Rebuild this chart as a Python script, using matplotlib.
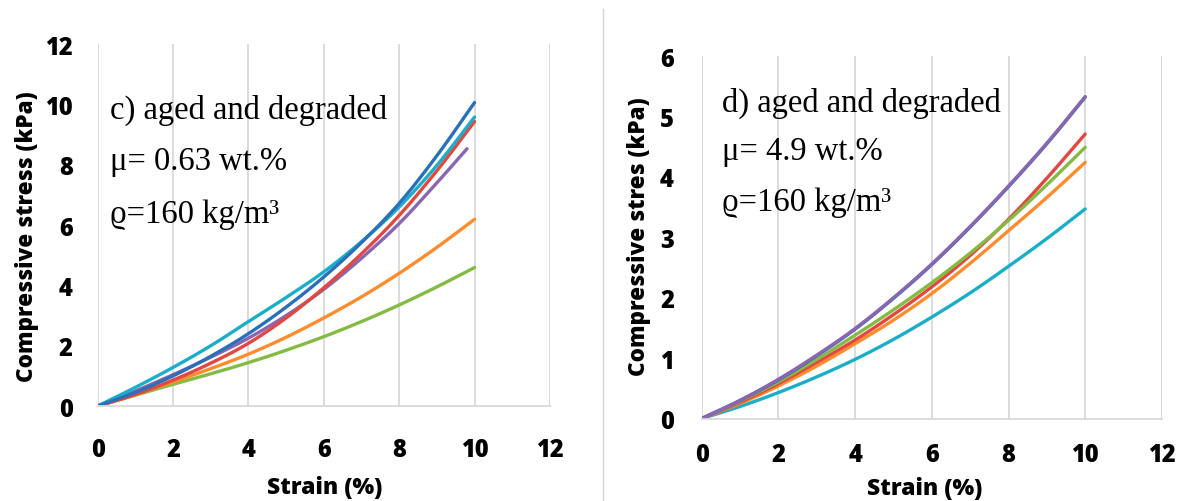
import numpy as np
import matplotlib
matplotlib.use("Agg")
import matplotlib.pyplot as plt
from matplotlib.lines import Line2D

# ---- data -------------------------------------------------------------
strain = [0, 1, 2, 3, 4, 5, 6, 7, 8, 9, 10]
strain_short = [0, 1, 2, 3, 4, 5, 6, 7, 8, 9, 9.8]

# panel c) mu = 0.63 wt.%
c_blue = [0, 0.45, 1.00, 1.65, 2.40, 3.28, 4.28, 5.42, 6.72, 8.30, 10.06]
c_cyan = [0, 0.62, 1.28, 2.00, 2.80, 3.60, 4.45, 5.45, 6.60, 7.98, 9.58]
c_red = [0, 0.38, 0.86, 1.42, 2.08, 2.92, 3.92, 5.05, 6.32, 7.80, 9.43]
c_purple = [0, 0.50, 1.04, 1.62, 2.25, 3.00, 3.87, 4.90, 6.05, 7.40, 8.53]
c_orange = [0, 0.38, 0.80, 1.24, 1.72, 2.28, 2.92, 3.62, 4.40, 5.26, 6.19]
c_green = [0, 0.36, 0.72, 1.07, 1.44, 1.85, 2.30, 2.80, 3.35, 3.95, 4.59]

# panel d) mu = 4.9 wt.%
d_blue = [0, 0.30, 0.64, 1.04, 1.48, 1.99, 2.55, 3.17, 3.84, 4.55, 5.32]
d_purple = [0, 0.30, 0.65, 1.05, 1.49, 2.00, 2.56, 3.18, 3.85, 4.56, 5.33]
d_red = [0, 0.27, 0.58, 0.93, 1.30, 1.72, 2.18, 2.70, 3.30, 3.98, 4.71]
d_green = [0, 0.29, 0.61, 0.98, 1.38, 1.80, 2.25, 2.74, 3.28, 3.87, 4.49]
d_orange = [0, 0.25, 0.54, 0.87, 1.24, 1.63, 2.07, 2.57, 3.11, 3.66, 4.24]
d_cyan = [0, 0.20, 0.43, 0.69, 0.98, 1.31, 1.68, 2.08, 2.52, 2.98, 3.47]

x_ticks = [0, 2, 4, 6, 8, 10, 12]
c_yticks = [0, 2, 4, 6, 8, 10, 12]
d_yticks = [0, 1, 2, 3, 4, 5, 6]

BLUE = "#2a70b8"
CYAN = "#1aaecb"
RED = "#e2483f"
PURPLE = "#8a66b2"
ORANGE = "#ff8c2c"
GREEN = "#84bb43"

SANS = ["Open Sans", "DejaVu Sans"]
SERIF = ["Liberation Serif", "DejaVu Serif"]


def smooth(x, y, n=12):
    """Catmull-Rom path through the points, for a smooth drawn line."""
    x = np.asarray(x, float)
    y = np.asarray(y, float)
    px = np.concatenate([[2 * x[0] - x[1]], x, [2 * x[-1] - x[-2]]])
    py = np.concatenate([[2 * y[0] - y[1]], y, [2 * y[-1] - y[-2]]])
    xs, ys = [], []
    t = np.linspace(0, 1, n, endpoint=False)
    for i in range(1, len(px) - 2):
        for arr, out in ((px, xs), (py, ys)):
            p0, p1, p2, p3 = arr[i - 1], arr[i], arr[i + 1], arr[i + 2]
            out.extend(0.5 * ((2 * p1) + (-p0 + p2) * t
                              + (2 * p0 - 5 * p1 + 4 * p2 - p3) * t ** 2
                              + (-p0 + 3 * p1 - 3 * p2 + p3) * t ** 3))
    xs.append(x[-1])
    ys.append(y[-1])
    return np.array(xs), np.array(ys)


def style_axes(ax, yticks, ymax, xpad, ypad):
    ax.set_xlim(0, 12)
    ax.set_ylim(0, ymax)
    ax.set_xticks(x_ticks)
    ax.set_yticks(yticks)
    ax.grid(axis="x", color="#d9d9d9", lw=1.3)
    ax.grid(axis="y", visible=False)
    ax.set_axisbelow(True)
    for s in ("top", "right", "left"):
        ax.spines[s].set_visible(False)
    ax.spines["bottom"].set_color("#d9d9d9")
    ax.spines["bottom"].set_linewidth(1.3)
    ax.tick_params(axis="both", length=0, labelsize=17)
    ax.tick_params(axis="x", pad=xpad)
    ax.tick_params(axis="y", pad=ypad)
    for lab in ax.get_xticklabels() + ax.get_yticklabels():
        lab.set_fontfamily(SANS)
        lab.set_fontweight(800)


fig = plt.figure(figsize=(11.86, 5.02), dpi=100)

ax1 = fig.add_axes([0.0824, 0.1892, 0.3813, 0.7211])
ax2 = fig.add_axes([0.5917, 0.1643, 0.3880, 0.7219])

lw = 2.4
for xs, ys, col in [(strain, c_green, GREEN), (strain, c_orange, ORANGE),
                    (strain_short, c_purple, PURPLE), (strain, c_red, RED),
                    (strain, c_cyan, CYAN), (strain, c_blue, BLUE)]:
    sx, sy = smooth(xs, ys)
    ax1.plot(sx, sy, color=col, lw=lw, solid_capstyle="round")

for ys, col in [(d_cyan, CYAN), (d_orange, ORANGE), (d_red, RED),
                (d_green, GREEN), (d_blue, BLUE), (d_purple, PURPLE)]:
    sx, sy = smooth(strain, ys)
    ax2.plot(sx, sy, color=col, lw=lw, solid_capstyle="round")

style_axes(ax1, c_yticks, 12, xpad=22, ypad=18)
style_axes(ax2, d_yticks, 6, xpad=17, ypad=20)

xlab_kw = dict(fontfamily=SANS, fontweight=800, fontsize=16.5)
ylab_kw = dict(fontfamily=SANS, fontweight=800, fontsize=16.2)
ax1.set_xlabel("Strain (%)", va="center", **xlab_kw)
ax1.xaxis.set_label_coords(0.5025, -0.224)
ax1.set_ylabel("Compressive stress (kPa)", va="center", **ylab_kw)
ax1.yaxis.set_label_coords(-0.156, 0.47)

ax2.set_xlabel("Strain (%)", va="center", **xlab_kw)
ax2.xaxis.set_label_coords(0.485, -0.192)
ax2.set_ylabel("Compressive stres (kPa)", va="center", **ylab_kw)
ax2.yaxis.set_label_coords(-0.137, 0.504)

note_kw = dict(fontfamily=SERIF, fontsize=23.5, va="center", ha="left")
ax1.text(0.027, 0.82, "c) aged and degraded", transform=ax1.transAxes, **note_kw)
ax1.text(0.027, 0.677, "μ= 0.63 wt.%", transform=ax1.transAxes, **note_kw)
ax1.text(0.027, 0.53, "ϱ=160 kg/m³", transform=ax1.transAxes, **note_kw)

ax2.text(0.044, 0.873, "d) aged and degraded", transform=ax2.transAxes, **note_kw)
ax2.text(0.044, 0.738, "μ= 4.9 wt.%", transform=ax2.transAxes, **note_kw)
ax2.text(0.044, 0.597, "ϱ=160 kg/m³", transform=ax2.transAxes, **note_kw)

# thin divider between the two panels
fig.add_artist(Line2D([603 / 1186, 603 / 1186], [0.0, 0.98],
                      transform=fig.transFigure, color="#d6d6d6", lw=1.0))

fig.savefig("out.png", dpi=100)
